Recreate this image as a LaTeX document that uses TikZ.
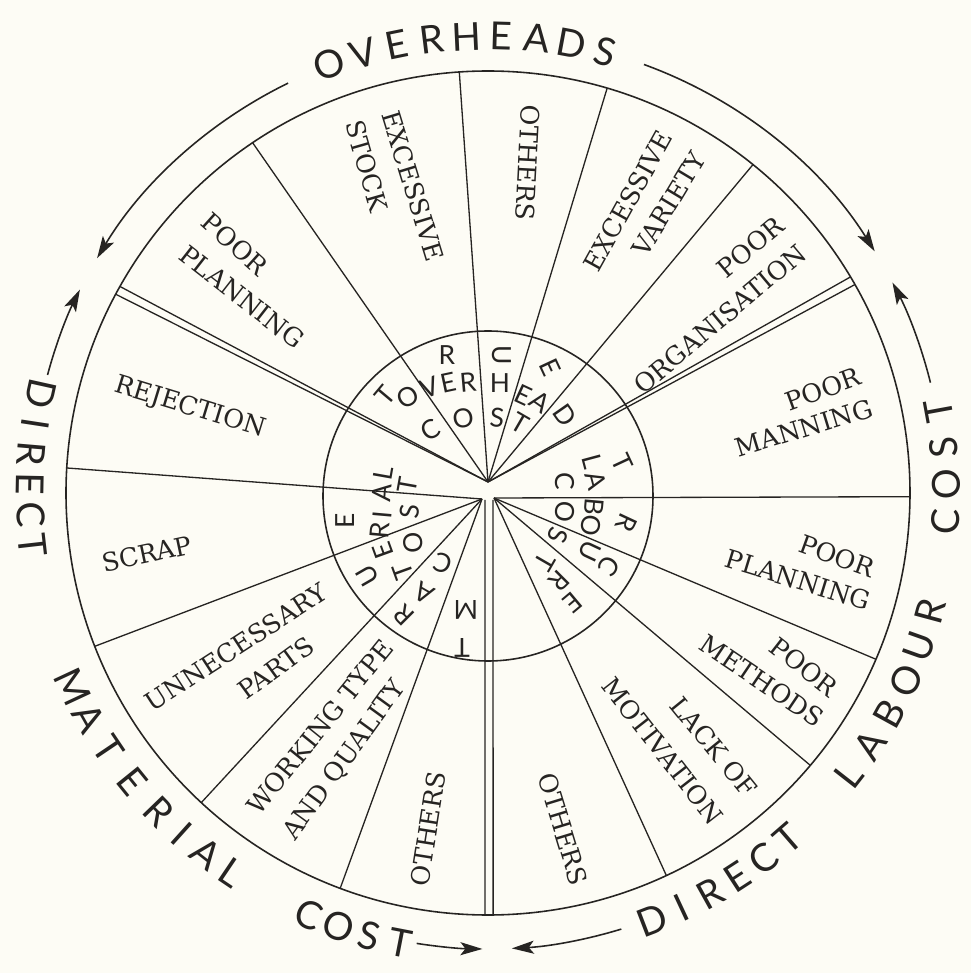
\documentclass[tikz,border=0pt]{standalone}
\usepackage{fontspec}
\setmainfont{DejaVu Serif}
\newfontfamily\geofont{Lato}
\usetikzlibrary{arrows.meta}
\definecolor{paper}{RGB}{253,252,245}
\definecolor{ink}{RGB}{38,36,34}
\begin{document}
\begin{tikzpicture}[x=0.02cm,y=0.02cm,
  lab/.style={font=\fontsize{14.5}{16}\selectfont, text=ink, inner sep=0pt},
  big/.style={font=\geofont\fontsize{22}{24}\selectfont, text=ink, inner sep=0pt},
  small/.style={font=\geofont\fontsize{15}{17}\selectfont, text=ink, inner sep=0pt},
  rim/.style={draw=ink, line width=0.9pt},
  radial/.style={draw=ink, line width=0.75pt},
  arcline/.style={draw=ink, line width=0.9pt},
  tip/.style={-{Stealth[length=0.44cm,width=0.26cm,inset=0.1cm]}}]
\fill[paper] (-488,-480) rectangle (483,493);
\useasboundingbox (-488,-480) rectangle (483,493);
% circles
\draw[rim] (0,0) circle[radius=422];
\draw[rim] (0,-3) circle[radius=165];
% hubs
\coordinate (hu) at (0,11);
\coordinate (hl) at (-6,-6);
\coordinate (hr) at (6,-5);
% radial lines
\draw[radial] (hu) -- (93.9:422);
\draw[radial] (hu) -- (73.6:422);
\draw[radial] (hu) -- (51.1:422);
\draw[radial] (hu) -- (30.8:422);
\draw[radial] (hu) -- (29.6:422);
\draw[radial] (hr) -- (-0.5:422);
\draw[radial] (hr) -- (-23.2:422);
\draw[radial] (hr) -- (-40.2:422);
\draw[radial] (hr) -- (-65:422);
\coordinate (vl) at (-3,-7);
\coordinate (vr) at (5,-7);
\draw[radial] (vl) -- (-90.4:422);
\draw[radial] (vr) -- (-89.3:422);
\draw[radial] (hl) -- (-110.5:422);
\draw[radial] (hl) -- (-132.8:422);
\draw[radial] (hl) -- (-158.7:422);
\draw[radial] (hl) -- (176.6:422);
\draw[radial] (hu) -- (151.9:422);
\draw[radial] (hu) -- (150.7:422);
\draw[radial] (hu) -- (123.9:422);
% sector labels
\node[lab, rotate=-42] (ppA) at (-253,249) {POOR};
\node[lab, rotate=-38] (ppB) at (-246,196) {PLANNING};
\node[lab, rotate=-73] (esA) at (-75,307) {EXCESSIVE};
\node[lab, rotate=-74] (esB) at (-121,327) {STOCK};
\node[lab, rotate=-93] (otT) at (40,330) {OTHERS};
\node[lab, rotate=61] (evA) at (140,292) {EXCESSIVE};
\node[lab, rotate=59] (evB) at (181,289) {VARIETY};
\node[lab, rotate=40] (poA) at (262,246) {POOR};
\node[lab, rotate=40] (poB) at (232,174) {ORGANISATION};
\node[lab, rotate=20] (pmA) at (335,104) {POOR};
\node[lab, rotate=17] (pmB) at (316,65) {MANNING};
\node[lab, rotate=-20] (plA) at (349,-63) {POOR};
\node[lab, rotate=-17] (plB) at (310,-87) {PLANNING};
\node[lab, rotate=-38] (pmeA) at (316,-174) {POOR};
\node[lab, rotate=-34] (pmeB) at (274,-188) {METHODS};
\node[lab, rotate=-51] (lmA) at (226,-254) {LACK OF};
\node[lab, rotate=-52] (lmB) at (175,-258) {MOTIVATION};
\node[lab, rotate=-73] (otR) at (75,-336) {OTHERS};
\node[lab, rotate=81] (otL) at (-60,-336) {OTHERS};
\node[lab, rotate=51] (wqA) at (-168,-234) {WORKING TYPE};
\node[lab, rotate=54] (wqB) at (-143,-267) {AND QUALITY};
\node[lab, rotate=33] (upA) at (-252,-154) {UNNECESSARY};
\node[lab, rotate=36] (upB) at (-212,-175) {PARTS};
\node[lab, rotate=12] (scr) at (-341,-61) {SCRAP};
\node[lab, rotate=-17] (rej) at (-298,85) {REJECTION};
% outer titles
\foreach \l/\a [count=\i] in {O/110.3,V/105.9,E/101.5,R/97.1,H/92.7,E/88.3,A/83.9,D/79.5,S/75.1}
  \node[big, rotate={\a-90}] (ov\i) at (\a:457) {\l};
\foreach \l/\a [count=\i] in {D/167.5,I/171.3,R/175.1,E/178.9,C/182.7,T/186.5,
  M/205,A/209.5,T/214,E/219,R/224,I/228,A/232,L/236,C/247,O/251,S/255,T/259}
  \node[big, rotate={\a+90}] (dm\i) at (\a:458) {\l};
\foreach \l/\a [count=\i] in {D/291,I/295,R/299,E/303,C/307,T/311,
  L/322,A/326.6,B/331.2,O/335.8,U/340.4,R/345,C/356.4,O/361.1,S/365.7,T/370.4}
  \node[big, rotate={\a+90}] (dl\i) at (\a:458) {\l};
% arrows
\draw[arcline, tip] (116:456) arc[start angle=116, end angle=149, radius=456];
\draw[arcline, tip] (165:456) arc[start angle=165, end angle=153.5, radius=456];
\draw[arcline, tip] (70:456) arc[start angle=70, end angle=32, radius=456];
\draw[arcline, tip] (14:456) arc[start angle=14, end angle=27.5, radius=456];
\draw[arcline, tip] (261:456) arc[start angle=261, end angle=269.3, radius=456];
\draw[arcline, tip] (287:456) arc[start angle=287, end angle=273, radius=456];
% inner jumbled letters
\foreach \l/\x/\y/\r [count=\i] in {
  R/-41/138/0, U/14/138/-90, E/62/126/-65,
  T/-103/98/50, O/-80/96/30, V/-58/105/20, E/-40/110/12, R/-20/111/5,
  H/12/110/0, E/35/98/-25, A/52/91/-35, D/77/78/-55,
  C/-58/63/30, O/-25/75/10, S/9/75/-5, T/32/70/-30}
  \node[small, rotate=\r] (io\i) at (\x,\y) {\l};
\foreach \l/\x/\y/\r [count=\i] in {
  T/134/30/-65, L/104/31/-75, A/108/12/-75, C/77/12/-90,
  B/106/-14/-95, O/103/-33/-100, R/139/-30/-115, O/77/-19/-95,
  U/102/-58/-115, C/121/-73/-125, S/70/-42/-110, T/57/-69/-120,
  R/71/-88/-135, E/85/-110/-140}
  \node[small, rotate=\r] (il\i) at (\x,\y) {\l};
\foreach \l/\x/\y/\r [count=\i] in {
  E/-143/-28/90, R/-108/-37/85, I/-106/-22/85, A/-106/0/85, L/-105/20/80,
  T/-80/8/80, S/-78/-19/85, O/-75/-50/95, T/-85/-78/110,
  U/-120/-83/120, E/-105/-58/110,
  R/-84/-122/135, A/-64/-100/150, C/-45/-70/160, M/-22/-117/180, T/-26/-155/180}
  \node[small, rotate=\r] (im\i) at (\x,\y) {\l};
\end{tikzpicture}
\end{document}
